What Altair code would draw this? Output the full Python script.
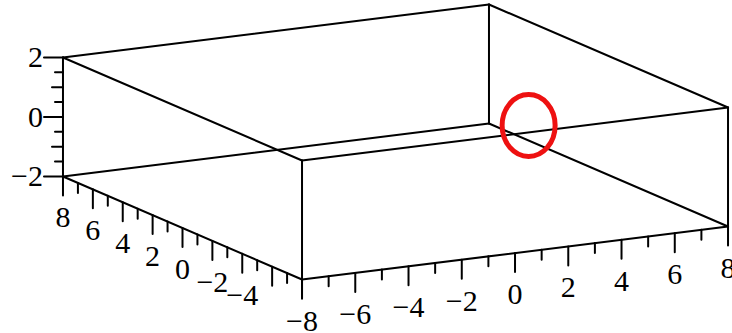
import altair as alt
import pandas as pd

# Box extents (x: front axis, y: depth axis, z: vertical axis)
X_RANGE = [-8, 8]
Y_RANGE = [-8, 8]
Z_RANGE = [-2, 2]

# Tick positions and labelled values
x_ticks = list(range(-8, 9))
y_ticks = list(range(-8, 9))
z_ticks = [-2, -1.5, -1, -0.5, 0, 0.5, 1, 1.5, 2]
x_labels = [-8, -6, -4, -2, 0, 2, 4, 6, 8]
y_labels = [8, 6, 4, 2, 0, -2, -4]
z_labels = [-2, 0, 2]

# Highlighted point inside the box
marker = [5.0, 0.0, 0.0]

# Orthographic view: screen position of the box centre and screen step per unit along each axis
W, H = 732, 333
ORIGIN = (395.5, 142.0)
EX = (26.625, -3.3125)
EY = (-14.94, -6.44)
EZ = (0.0, -29.75)

MAJOR, MINOR, SMALL = 19, 10, 8
FONT = "Liberation Serif"
FONT_SIZE = 30


def project(x, y, z):
    return (ORIGIN[0] + x * EX[0] + y * EY[0] + z * EZ[0],
            ORIGIN[1] + x * EX[1] + y * EY[1] + z * EZ[1])


def fmt(v):
    return str(int(v)).replace("-", "\u2212")


segments = []

# the twelve edges of the bounding box
corners = [(x, y, z) for x in X_RANGE for y in Y_RANGE for z in Z_RANGE]
for i, a in enumerate(corners):
    for b in corners[i + 1:]:
        if sum(p != q for p, q in zip(a, b)) == 1:
            (ax, ay), (bx, by) = project(*a), project(*b)
            segments.append({"sx": ax, "sy": ay, "sx2": bx, "sy2": by})

labels = []

# front axis: y = -8, z = -2, ticks hang straight down
for v in x_ticks:
    px, py = project(v, Y_RANGE[0], Z_RANGE[0])
    length = MAJOR if v % 2 == 0 else MINOR
    segments.append({"sx": px, "sy": py, "sx2": px, "sy2": py + length})
for v in x_labels:
    px, py = project(v, Y_RANGE[0], Z_RANGE[0])
    labels.append({"sx": px, "sy": py + 51, "text": fmt(v), "align": "center"})

# depth axis: x = -8, z = -2
for v in y_ticks:
    px, py = project(X_RANGE[0], v, Z_RANGE[0])
    length = MAJOR if v % 2 == 0 else MINOR
    segments.append({"sx": px, "sy": py, "sx2": px, "sy2": py + length})
for v in y_labels:
    px, py = project(X_RANGE[0], v, Z_RANGE[0])
    labels.append({"sx": px, "sy": py + 51, "text": fmt(v), "align": "center"})

# vertical axis: x = -8, y = 8, ticks point left
for v in z_ticks:
    px, py = project(X_RANGE[0], Y_RANGE[1], v)
    if v in z_labels:
        length = MAJOR
    elif float(v).is_integer():
        length = MINOR + 1
    else:
        length = SMALL
    segments.append({"sx": px, "sy": py, "sx2": px - length, "sy2": py})
for v in z_labels:
    px, py = project(X_RANGE[0], Y_RANGE[1], v)
    labels.append({"sx": px - 20, "sy": py + 10, "text": fmt(v), "align": "right"})

seg_df = pd.DataFrame(segments)
lab_df = pd.DataFrame(labels)
mx, my = project(*marker)
mark_df = pd.DataFrame([{"sx": mx, "sy": my}])

xs = alt.Scale(domain=[0, W], nice=False, zero=False)
ys = alt.Scale(domain=[H, 0], nice=False, zero=False)

edges = alt.Chart(seg_df).mark_rule(color="black", strokeWidth=2, strokeCap="round").encode(
    x=alt.X("sx:Q", scale=xs, axis=None),
    y=alt.Y("sy:Q", scale=ys, axis=None),
    x2="sx2:Q",
    y2="sy2:Q",
)

center_text = alt.Chart(lab_df[lab_df["align"] == "center"]).mark_text(
    font=FONT, fontSize=FONT_SIZE, color="black", align="center", baseline="alphabetic"
).encode(
    x=alt.X("sx:Q", scale=xs, axis=None),
    y=alt.Y("sy:Q", scale=ys, axis=None),
    text="text:N",
)

right_text = alt.Chart(lab_df[lab_df["align"] == "right"]).mark_text(
    font=FONT, fontSize=FONT_SIZE, color="black", align="right", baseline="alphabetic"
).encode(
    x=alt.X("sx:Q", scale=xs, axis=None),
    y=alt.Y("sy:Q", scale=ys, axis=None),
    text="text:N",
)

ellipse_path = "M-0.855,0A0.855,1,0,1,1,0.855,0A0.855,1,0,1,1,-0.855,0Z"
ring = alt.Chart(mark_df).mark_point(
    shape=ellipse_path, size=3844, filled=False, stroke="#ee1111", strokeWidth=5, opacity=1
).encode(
    x=alt.X("sx:Q", scale=xs, axis=None),
    y=alt.Y("sy:Q", scale=ys, axis=None),
)

chart = alt.layer(edges, center_text, right_text, ring).properties(
    width=W, height=H, padding=0, autosize=alt.AutoSizeParams(type="none"), background="white"
).configure_view(stroke=None)

chart.save("out.html", embed_options={"renderer": "svg", "actions": False})
